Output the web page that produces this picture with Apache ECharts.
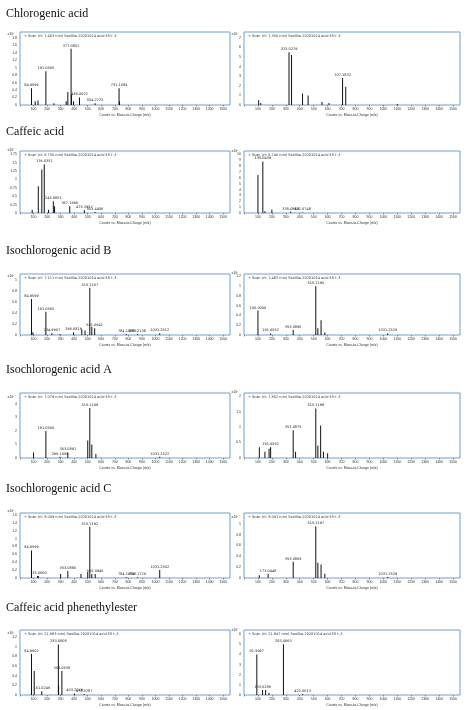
<!DOCTYPE html>
<html><head><meta charset="utf-8">
<script src="https://cdn.jsdelivr.net/npm/echarts@6/dist/echarts.min.js"></script>
<style>html,body{margin:0;padding:0;background:#fff}#c{width:474px;height:710px}</style>
</head><body><div id="c"></div>
<script>
const titles = ["Chlorogenic acid","Caffeic acid","Isochlorogenic acid B","Isochlorogenic acid A","Isochlorogenic acid C","Caffeic acid phenethylester"];
const headers = [
 ["Scan (rt: 7.463 min) Sanlike-20201014 acid ES+-3","Scan (rt: 7.350 min) Sanlike-20201014 acid ES+-3"],
 ["Scan (rt: 6.750 min) Sanlike-20201014 acid ES+-3","Scan (rt: 6.740 min) Sanlike-20201014 acid ES+-3"],
 ["Scan (rt: 7.111 min) Sanlike-20201014 acid ES+-3","Scan (rt: 7.482 min) Sanlike-20201014 acid ES+-3"],
 ["Scan (rt: 7.079 min) Sanlike-20201014 acid ES+-3","Scan (rt: 7.852 min) Sanlike-20201014 acid ES+-3"],
 ["Scan (rt: 8.009 min) Sanlike-20201014 acid ES+-3","Scan (rt: 8.001 min) Sanlike-20201014 acid ES+-3"],
 ["Scan (rt: 21.983 min) Sanlike-20201014 acid ES+-3","Scan (rt: 21.847 min) Sanlike-20201014 acid ES+-3"]
];
// peaks: [m/z, intensity]
const peaks1L=[[84.9596,0.45],[112,0.1],[133,0.12],[191.0565,0.9],[250,0.05],[341,0.1],[353.09,0.35],[377.0852,1.5],[380,0.28],[395,0.1],[439.0622,0.2],[554.2725,0.05],[731.1584,0.45],[734,0.1]];
const peaks1R=[[105,0.5],[120,0.2],[323.0279,5.5],[341.04,5.2],[420,1.2],[460,1.0],[560,0.3],[610,0.2],[707.1832,2.8],[730,1.9],[1100,0.1]];
const peaks2L=[[90,0.1],[135,0.8],[161,1.3],[179.0351,1.45],[211,0.1],[245.9851,0.35],[255,0.2],[367.1666,0.2],[475.3957,0.08],[553.4406,0.03]];
const peaks2R=[[100,6.5],[135.0439,8.8],[150,0.3],[200,0.6],[335.0869,0.2],[421.0748,0.1]];
const peaks3L=[[84.9599,0.65],[95,0.05],[191.0565,0.42],[234.9907,0.03],[295.0,0.02],[395.0819,0.05],[456,0.1],[480,0.08],[515.1167,0.85],[530,0.15],[551.0941,0.12],[784.1608,0.02],[868.2138,0.02],[1031.2512,0.03]];
const peaks3R=[[100,0.5],[191.0562,0.03],[353.0896,0.1],[515.1195,1.0],[530,0.14],[553,0.3],[580,0.05],[1031.2529,0.03]];
const peaks4L=[[100,0.4],[191.0560,2.0],[295.1009,0.1],[353.0891,0.4],[500,1.3],[515.1199,3.7],[530,1.0],[560,0.3],[1031.2522,0.1]];
const peaks4R=[[110,0.35],[150,0.2],[180,0.3],[191.0562,0.35],[353.0875,0.9],[370,0.2],[515.1198,1.6],[530,0.4],[550,1.05],[570,0.2],[600,0.15]];
const peaks5L=[[84.9599,0.7],[130,0.05],[135.0660,0.05],[300,0.1],[353.0880,0.18],[450,0.1],[500,0.15],[515.1192,1.3],[530,0.1],[555.0945,0.1],[784.1674,0.02],[868.1720,0.02],[1031.2502,0.2]];
const peaks5R=[[110,0.05],[173.0448,0.08],[353.0869,0.3],[515.1197,0.95],[530,0.28],[553,0.25],[580,0.08],[1031.2529,0.02]];
const peaks6L=[[84.9602,0.85],[105,0.5],[161.0249,0.08],[283.0808,1.05],[285,0.2],[309.0638,0.5],[403.2049,0.03],[473.3287,0.02]];
const peaks6R=[[91.9967,4.0],[133.0286,0.5],[155,0.5],[179.03,0.2],[283.0663,5.0],[421.0613,0.1]];
// m/z values that carry a label
const labels=[
 [[84.9596,191.0565,377.0852,439.0622,554.2725,731.1584],[323.0279,707.1832]],
 [[179.0351,245.9851,367.1666,475.3957,553.4406],[135.0439,335.0869,421.0748]],
 [[84.9599,191.0565,234.9907,395.0819,515.1167,551.0941,784.1608,868.2138,1031.2512],[100,191.0562,353.0896,515.1195,1031.2529]],
 [[191.0560,295.1009,353.0891,515.1199,1031.2522],[191.0562,353.0875,515.1198]],
 [[84.9599,135.0660,353.0880,515.1192,555.0945,784.1674,868.1720,1031.2502],[173.0448,353.0869,515.1197,1031.2529]],
 [[84.9602,161.0249,283.0808,309.0638,403.2049,473.3287],[91.9967,133.0286,283.0663,421.0613]]
];
const peaks=[[peaks1L,peaks1R],[peaks2L,peaks2R],[peaks3L,peaks3R],[peaks4L,peaks4R],[peaks5L,peaks5R],[peaks6L,peaks6R]];
const yMax=[[1.95,7.6],[1.85,10.6],[1.1,1.25],[4.8,2.1],[1.65,1.2],[1.35,6.4]];
const yInt=[[0.2,1],[0.25,1],[0.2,0.2],[1,0.5],[0.2,0.2],[0.2,1]];
const rowTitleY=[8,126,245,364,483,602];
const boxTop=[32,151,274,393,513,630];
const boxH=[73,62,61,65,65,65];

const chart=echarts.init(document.getElementById('c'));
const grid=[],xAxis=[],yAxis=[],series=[],graphic=[];
let k=0;
for(let r=0;r<6;r++){
 graphic.push({type:'text',left:6,top:rowTitleY[r],style:{text:titles[r],font:'12px "Liberation Serif"',fill:'#111'}});
 for(let s=0;s<2;s++){
  const left=s?244:20, width=s?216:210;
  grid.push({left:left,top:boxTop[r],width:width,height:boxH[r],show:true,borderColor:'#6fa0d0',borderWidth:1,containLabel:false});
  xAxis.push({type:'value',gridIndex:k,min:0,max:1550,interval:100,name:'Counts vs. Mass-to-Charge (m/z)',nameLocation:'middle',nameGap:8,nameTextStyle:{fontSize:3.5,color:'#333'},
   axisLine:{show:false},axisTick:{length:1.5,lineStyle:{color:'#333',width:0.5}},splitLine:{show:false},
   axisLabel:{fontSize:3.5,color:'#333',margin:2,formatter:v=>v===0?'':v}});
  yAxis.push({type:'value',gridIndex:k,min:0,max:yMax[r][s],interval:yInt[r][s],name:'x10\u2077',nameLocation:'end',nameGap:-6,nameTextStyle:{fontSize:3.5,color:'#333',padding:[0,18,0,0]},
   axisLine:{show:false},axisTick:{show:false},splitLine:{show:false},axisLabel:{fontSize:3.5,color:'#333',margin:3,showMaxLabel:false}});
  graphic.push({type:'text',left:left+4,top:boxTop[r]+2,style:{text:'+ '+headers[r][s],font:'3.5px "DejaVu Sans"',fill:'#333'}});
  const lab=labels[r][s];
  series.push({type:'bar',xAxisIndex:k,yAxisIndex:k,barWidth:0.8,barGap:'-100%',itemStyle:{color:'#111'},silent:true,
   data:peaks[r][s].map(p=>{const on=lab.indexOf(p[0])>=0;return {value:p,label:{show:on,position:'top',distance:1,fontSize:3.5,color:'#222',fontFamily:'DejaVu Sans',formatter:()=>p[0].toFixed(4)}};})});
  k++;
 }
}
chart.setOption({animation:false,grid,xAxis,yAxis,series,graphic});
</script></body></html>
